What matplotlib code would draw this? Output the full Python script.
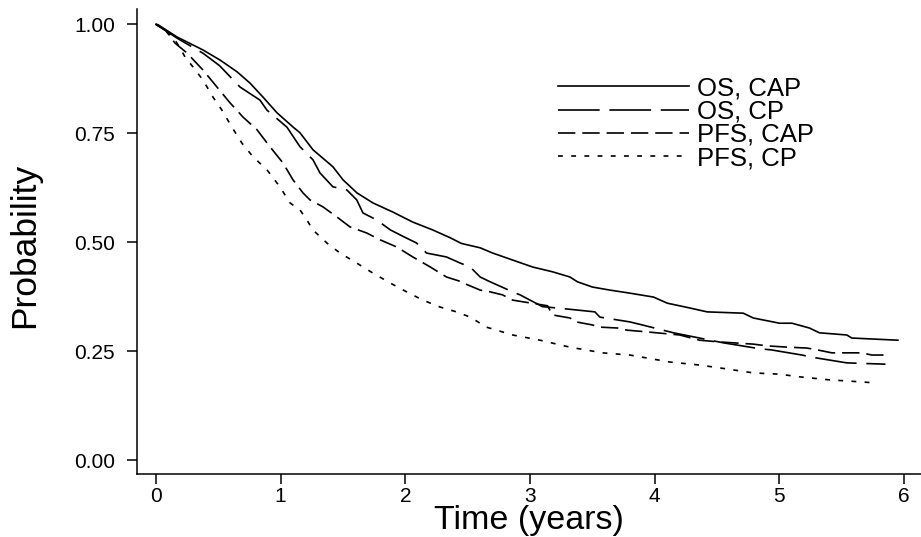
import numpy as np
import matplotlib
matplotlib.use("Agg")
import matplotlib.pyplot as plt

plt.rcParams['font.family'] = ['Liberation Sans', 'DejaVu Sans']
plt.rcParams['lines.scale_dashes'] = False

# Kaplan-Meier curves, values
os_cap_t = [0, 0.016, 0.168, 0.377, 0.513, 0.65, 0.754, 0.858, 0.97, 1.10, 1.155, 1.259, 1.419,
            1.50, 1.612, 1.74, 1.90, 2.06, 2.22, 2.36, 2.45, 2.60, 2.70, 2.86, 3.02, 3.18, 3.32,
            3.38, 3.50, 3.64, 3.80, 3.99, 4.10, 4.28, 4.42, 4.71, 4.79, 5.00, 5.10, 5.24, 5.32,
            5.54, 5.58, 5.95]
os_cap_p = [1.0, 0.999, 0.971, 0.941, 0.918, 0.891, 0.865, 0.833, 0.797, 0.764, 0.751, 0.712, 0.673,
            0.643, 0.613, 0.590, 0.569, 0.546, 0.528, 0.510, 0.497, 0.487, 0.475, 0.459, 0.443, 0.432, 0.420,
            0.409, 0.397, 0.390, 0.383, 0.374, 0.360, 0.349, 0.340, 0.337, 0.326, 0.314, 0.314, 0.303, 0.292,
            0.287, 0.280, 0.275]

os_cp_t = [0, 0.17, 0.38, 0.51, 0.674, 0.834, 0.89, 1.05, 1.155, 1.259, 1.315, 1.419, 1.53, 1.61,
           1.66, 1.77, 1.88, 1.99, 2.09, 2.17, 2.33, 2.44, 2.52, 2.60, 2.68, 2.86, 2.92, 3.10, 3.25,
           3.52, 3.56, 3.80, 3.90, 4.15, 4.55, 4.85, 4.93, 5.18, 5.26, 5.54, 5.85]
os_cp_p = [1.0, 0.968, 0.933, 0.905, 0.856, 0.826, 0.803, 0.764, 0.719, 0.689, 0.659, 0.627, 0.620, 0.597,
           0.567, 0.551, 0.528, 0.512, 0.498, 0.475, 0.466, 0.452, 0.443, 0.420, 0.409, 0.386, 0.379, 0.352, 0.348,
           0.340, 0.328, 0.317, 0.310, 0.292, 0.269, 0.255, 0.253, 0.241, 0.236, 0.223, 0.220]

pfs_cap_t = [0, 0.08, 0.152, 0.249, 0.377, 0.489, 0.593, 0.698, 0.81, 0.914, 1.018, 1.099, 1.179,
             1.235, 1.339, 1.45, 1.556, 1.69, 1.80, 1.93, 2.06, 2.20, 2.33, 2.44, 2.50, 2.60, 2.68,
             2.78, 2.86, 3.14, 3.18, 3.32, 3.37, 3.50, 3.56, 3.70, 3.78, 3.94, 4.20, 4.36, 4.52, 4.63,
             4.79, 4.90, 5.07, 5.22, 5.30, 5.42, 5.66, 5.74, 5.89]
pfs_cap_p = [1.0, 0.985, 0.957, 0.934, 0.895, 0.856, 0.820, 0.787, 0.758, 0.719, 0.682, 0.643, 0.613,
             0.597, 0.581, 0.558, 0.535, 0.521, 0.505, 0.489, 0.466, 0.443, 0.420, 0.410, 0.402, 0.390, 0.386,
             0.379, 0.367, 0.354, 0.333, 0.326, 0.317, 0.310, 0.305, 0.303, 0.298, 0.294, 0.287, 0.275, 0.271, 0.269,
             0.266, 0.262, 0.259, 0.257, 0.253, 0.246, 0.246, 0.241, 0.241]

pfs_cp_t = [0, 0.08, 0.15, 0.192, 0.233, 0.297, 0.377, 0.457, 0.529, 0.609, 0.69, 0.778, 0.89, 0.994,
            1.075, 1.155, 1.21, 1.259, 1.371, 1.476, 1.61, 1.74, 1.88, 2.01, 2.14, 2.28, 2.41, 2.52,
            2.65, 2.86, 3.08, 3.32, 3.58, 3.80, 3.94, 4.12, 4.36, 4.58, 4.79, 5.0, 5.16, 5.40, 5.57, 5.77]
pfs_cp_p = [1.0, 0.985, 0.965, 0.946, 0.925, 0.902, 0.872, 0.833, 0.803, 0.764, 0.727, 0.696, 0.666, 0.627,
            0.590, 0.574, 0.551, 0.528, 0.498, 0.475, 0.452, 0.429, 0.406, 0.386, 0.367, 0.351, 0.340, 0.328,
            0.305, 0.287, 0.275, 0.259, 0.246, 0.241, 0.234, 0.225, 0.218, 0.209, 0.200, 0.197, 0.191, 0.184, 0.181, 0.177]

labels = ['OS, CAP', 'OS, CP', 'PFS, CAP', 'PFS, CP']
y_ticks = [0, 0.25, 0.5, 0.75, 1.0]
x_ticks = [0, 1, 2, 3, 4, 5, 6]

fig = plt.figure(figsize=(9.21, 5.37), dpi=100)
ax = fig.add_axes([137 / 921, 63 / 537, 784 / 921, 465 / 537])

lw = 1.2
ax.plot(os_cap_t, os_cap_p, color='black', lw=lw, label=labels[0])
ax.plot(os_cp_t, os_cp_p, color='black', lw=lw, dashes=(30, 7), label=labels[1])
ax.plot(pfs_cap_t, pfs_cap_p, color='black', lw=lw, dashes=(12.5, 5), label=labels[2])
ax.plot(pfs_cp_t, pfs_cp_p, color='black', lw=lw, dashes=(3.5, 6), label=labels[3])

ax.set_xlim(-0.152, 6.135)
ax.set_ylim(-0.032, 1.035)
ax.set_xticks(x_ticks)
ax.set_xticklabels([str(v) for v in x_ticks])
ax.set_yticks(y_ticks)
ax.set_yticklabels(['%.2f' % v for v in y_ticks])

for s in ['top', 'right']:
    ax.spines[s].set_visible(False)
for s in ['left', 'bottom']:
    ax.spines[s].set_linewidth(1.1)
ax.tick_params(axis='both', length=7, width=1.1, labelsize=15)
ax.tick_params(axis='y', pad=9)
ax.tick_params(axis='x', pad=2)

ax.set_xlabel('Time (years)', fontsize=24.5, va='center')
ax.xaxis.set_label_coords(0.5, -0.099)
ax.set_ylabel('Probability', fontsize=25.5, va='center')
ax.yaxis.set_label_coords(-0.143, 0.492)

ax.legend(loc='upper left', bbox_to_anchor=(0.537, 0.855), frameon=False, fontsize=18.5,
          handlelength=5.1, handletextpad=0.3, labelspacing=-0.03, borderpad=0, borderaxespad=0)

fig.savefig('out.png', dpi=100)
